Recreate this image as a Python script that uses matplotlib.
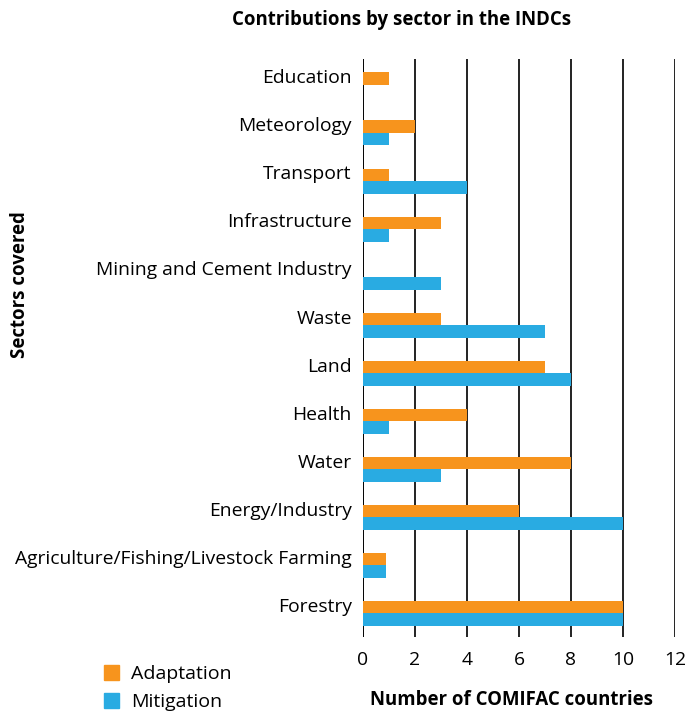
import matplotlib
matplotlib.use("Agg")
import matplotlib.pyplot as plt
import numpy as np
from matplotlib.patches import Patch

plt.rcParams['font.family'] = ['Open Sans', 'DejaVu Sans']

# data, top to bottom as in the chart
sectors = ['Education', 'Meteorology', 'Transport', 'Infrastructure',
           'Mining and Cement Industry', 'Waste', 'Land', 'Health', 'Water',
           'Energy/Industry', 'Agriculture/Fishing/Livestock Farming', 'Forestry']
adaptation = [1, 2, 1, 3, 0, 3, 7, 4, 8, 6, 0.9, 10]
mitigation = [0, 1, 4, 1, 3, 7, 8, 1, 3, 10, 0.9, 10]
xticks = [0, 2, 4, 6, 8, 10, 12]

orange = '#F7941D'
blue = '#29ABE2'

fig = plt.figure(figsize=(6.96, 7.13), dpi=100)
ax = fig.add_axes([363/696, 1 - 637/713, 312/696, (637 - 59)/713])

y = np.arange(len(sectors))
h = 0.26
ax.barh(y, adaptation, height=h, color=orange)   # orange bar at the label
ax.barh(y + h, mitigation, height=h, color=blue)  # blue just below

ax.set_ylim(len(sectors) - 1 + 0.62, -0.41)
ax.set_xlim(0, 12)
ax.set_yticks(y - 0.05)
ax.set_yticklabels(sectors, fontsize=13.9)
ax.set_xticks(xticks)
ax.set_xticklabels([str(t) for t in xticks], fontsize=13.9)
ax.tick_params(length=0, pad=8)
ax.tick_params(axis='x', pad=10)

for s in ax.spines.values():
    s.set_visible(False)
for t in xticks:
    ax.axvline(t, color='black' if t == 0 else '#222222', lw=1.4, zorder=0)

fig.text(402/696, 1 - 20/713, 'Contributions by sector in the INDCs',
         ha='center', va='center', fontsize=13.4, fontweight='bold')
fig.text(20/696, 1 - 285/713, 'Sectors covered', rotation=90,
         ha='center', va='center', fontsize=13.4, fontweight='bold')
fig.text(511/696, 1 - 700/713, 'Number of COMIFAC countries',
         ha='center', va='center', fontsize=13.4, fontweight='bold')

handles = [Patch(color=orange, label='Adaptation'), Patch(color=blue, label='Mitigation')]
fig.legend(handles=handles, loc='center left', bbox_to_anchor=(86/696, 1 - 688/713),
           frameon=False, fontsize=14, handlelength=0.8, handleheight=0.8,
           handletextpad=0.62, labelspacing=0.5)

fig.savefig('out.png', dpi=100)
